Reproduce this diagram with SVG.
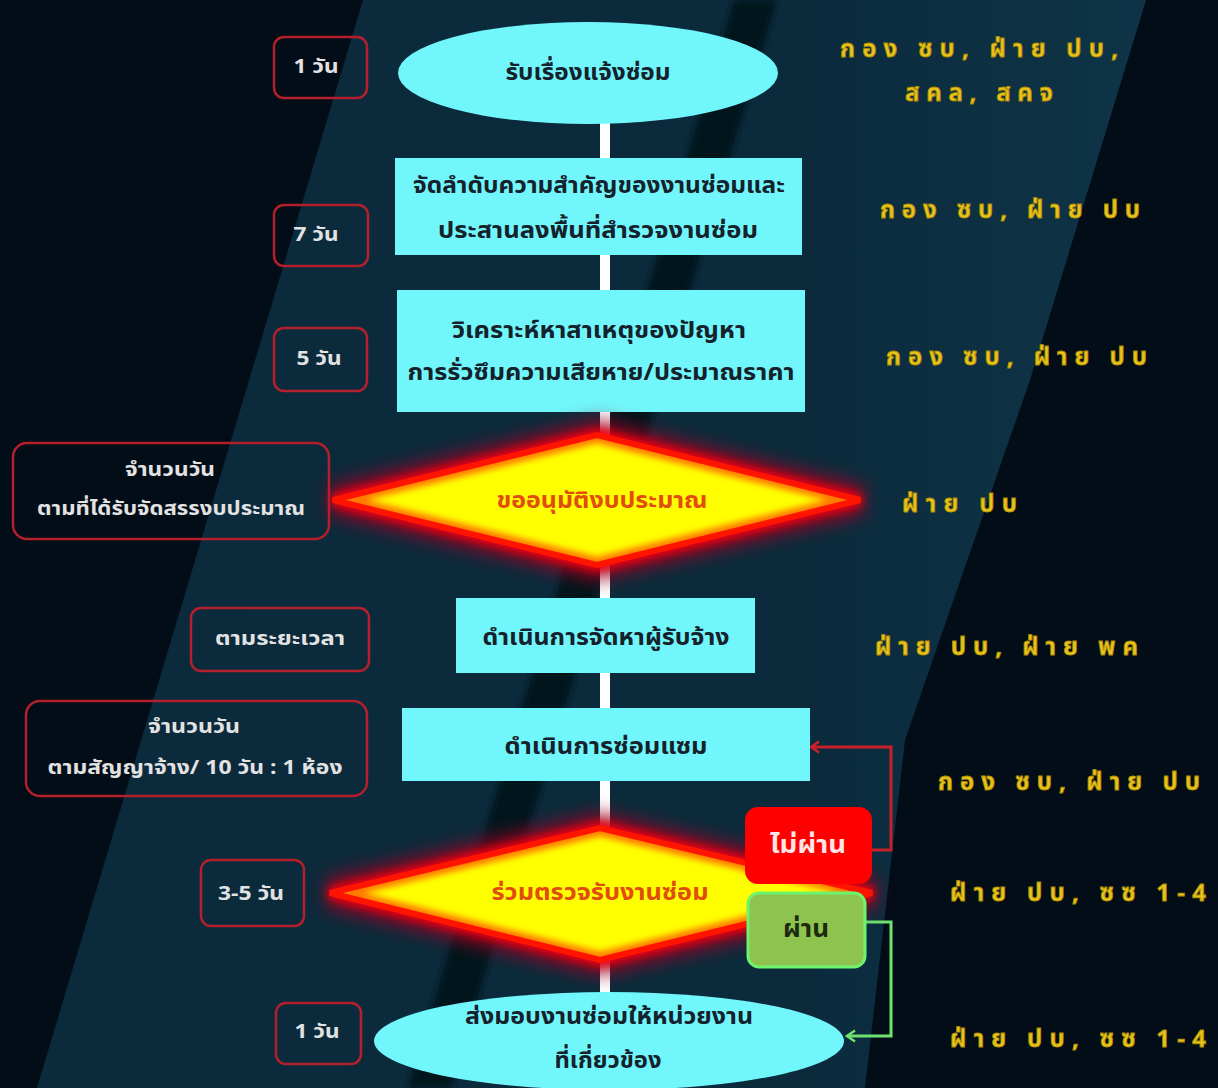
<svg xmlns="http://www.w3.org/2000/svg" width="1218" height="1088" viewBox="0 0 1218 1088">
  <defs>
    <style>
      .nt { font-family: 'Noto Sans Thai', 'Noto Sans', 'DejaVu Sans', sans-serif; font-weight: bold; font-size: 23px; fill: #15212b; text-anchor: middle; }
      .dt { font-family: 'Noto Sans Thai', 'Noto Sans', 'DejaVu Sans', sans-serif; font-weight: bold; font-size: 23px; fill: #e24c0c; text-anchor: middle; }
      .bt { font-family: 'Noto Sans Thai', 'Noto Sans', 'DejaVu Sans', sans-serif; font-weight: bold; font-size: 19px; fill: #e2e2e2; text-anchor: middle; }
      .who { font-family: 'Noto Sans Thai', 'Noto Sans', 'DejaVu Sans', sans-serif; font-weight: bold; font-size: 24px; fill: #e8c41c; stroke: #b08c00; stroke-width: 0.8; }
      .badge { fill: none; stroke: #b3202c; stroke-width: 2.5; }
      .proc { fill: #70f6fb; }
      .bar { fill: #ffffff; }
      .glow2 { fill: #a00020; stroke: #a00020; stroke-width: 30; stroke-linejoin: miter; filter: url(#blur9); opacity: 0.85; }
      .glow { fill: none; stroke: #ff0010; stroke-width: 12; stroke-linejoin: miter; filter: url(#blur4); opacity: 0.9; }
      .dfill { fill: #ffff00; }
      .dinner { fill: none; stroke: #ff7a00; stroke-width: 16; filter: url(#blur3); }
      .dedge { fill: none; stroke: #ff1400; stroke-width: 6; }
    </style>
    <filter id="blur9" x="-20%" y="-60%" width="140%" height="220%"><feGaussianBlur stdDeviation="9"/></filter>
    <filter id="blur4" x="-20%" y="-60%" width="140%" height="220%"><feGaussianBlur stdDeviation="4"/></filter>
    <filter id="blur3" x="-10%" y="-30%" width="120%" height="160%"><feGaussianBlur stdDeviation="3"/></filter>
    <filter id="soft" x="-10%" y="-10%" width="120%" height="120%"><feGaussianBlur stdDeviation="3"/></filter>
    <linearGradient id="band" x1="0" y1="0" x2="1" y2="0">
      <stop offset="0" stop-color="#0b2a3c"/>
      <stop offset="0.7" stop-color="#0b2b3d"/>
      <stop offset="1" stop-color="#0f3447"/>
    </linearGradient>
    <clipPath id="clipD1"><polygon points="333,500 597,435 860,500 597,565"/></clipPath>
    <clipPath id="clipD2"><polygon points="330,893 600,828 872,893 600,960"/></clipPath>
    <marker id="arrR" markerWidth="14" markerHeight="14" refX="11" refY="7" orient="auto" markerUnits="userSpaceOnUse">
      <path d="M3,1.5 L11,7 L3,12.5" fill="none" stroke="#d0202a" stroke-width="2.5"/>
    </marker>
    <marker id="arrG" markerWidth="14" markerHeight="14" refX="11" refY="7" orient="auto" markerUnits="userSpaceOnUse">
      <path d="M3,1.5 L11,7 L3,12.5" fill="none" stroke="#6fe36f" stroke-width="2.5"/>
    </marker>
  </defs>

  <!-- background -->
  <rect x="0" y="0" width="1218" height="1088" fill="#020d18"/>
  <polygon points="363,0 1146,0 1030,380 950,610 905,740 865,1088 37,1088" fill="url(#band)"/>
  <polygon points="734,0 777,0 451,1088 408,1088" fill="#04121e" filter="url(#soft)"/>

  <!-- connectors -->
  <g id="connectors">
    <rect class="bar" x="600" y="122" width="10" height="38"/>
    <rect class="bar" x="600" y="253" width="10" height="39"/>
    <rect class="bar" x="600" y="410" width="10" height="28"/>
    <rect class="bar" x="600" y="562" width="10" height="38"/>
    <rect class="bar" x="600" y="671" width="10" height="39"/>
    <rect class="bar" x="600" y="779" width="10" height="52"/>
    <rect class="bar" x="600" y="957" width="10" height="38"/>
    <path d="M872,850 H891 V747 H811" fill="none" stroke="#c8202a" stroke-width="3" marker-end="url(#arrR)"/>
    <path d="M865,922 H891 V1036 H847" fill="none" stroke="#6fe36f" stroke-width="3" marker-end="url(#arrG)"/>
  </g>

  <!-- flow nodes -->
  <g id="n1">
    <ellipse class="proc" cx="588" cy="73" rx="190" ry="51"/>
    <text class="nt" x="588" y="80" textLength="165" lengthAdjust="spacingAndGlyphs">รับเรื่องแจ้งซ่อม</text>
  </g>
  <g id="n2">
    <rect class="proc" x="395" y="158" width="407" height="97"/>
    <text class="nt" x="599" y="193" textLength="372" lengthAdjust="spacingAndGlyphs">จัดลำดับความสำคัญของงานซ่อมและ</text>
    <text class="nt" x="598" y="238" textLength="320" lengthAdjust="spacingAndGlyphs">ประสานลงพื้นที่สำรวจงานซ่อม</text>
  </g>
  <g id="n3">
    <rect class="proc" x="397" y="290" width="408" height="122"/>
    <text class="nt" x="599" y="338" textLength="294" lengthAdjust="spacingAndGlyphs">วิเคราะห์หาสาเหตุของปัญหา</text>
    <text class="nt" x="601" y="380" textLength="387" lengthAdjust="spacingAndGlyphs">การรั่วซึมความเสียหาย/ประมาณราคา</text>
  </g>
  <g id="n4">
    <polygon class="glow2" points="333,500 597,435 860,500 597,565"/>
    <polygon class="glow" points="333,500 597,435 860,500 597,565"/>
    <polygon class="dfill" points="333,500 597,435 860,500 597,565"/>
    <polygon class="dinner" clip-path="url(#clipD1)" points="333,500 597,435 860,500 597,565"/>
    <polygon class="dedge" points="333,500 597,435 860,500 597,565"/>
    <text class="dt" x="602" y="508" textLength="211" lengthAdjust="spacingAndGlyphs">ขออนุมัติงบประมาณ</text>
  </g>
  <g id="n5">
    <rect class="proc" x="456" y="598" width="299" height="75"/>
    <text class="nt" x="606" y="645" textLength="247" lengthAdjust="spacingAndGlyphs">ดำเนินการจัดหาผู้รับจ้าง</text>
  </g>
  <g id="n6">
    <rect class="proc" x="402" y="708" width="408" height="73"/>
    <text class="nt" x="606" y="754" textLength="203" lengthAdjust="spacingAndGlyphs">ดำเนินการซ่อมแซม</text>
  </g>
  <g id="n7">
    <polygon class="glow2" points="330,893 600,828 872,893 600,960"/>
    <polygon class="glow" points="330,893 600,828 872,893 600,960"/>
    <polygon class="dfill" points="330,893 600,828 872,893 600,960"/>
    <polygon class="dinner" clip-path="url(#clipD2)" points="330,893 600,828 872,893 600,960"/>
    <polygon class="dedge" points="330,893 600,828 872,893 600,960"/>
    <text class="dt" x="600" y="900" textLength="217" lengthAdjust="spacingAndGlyphs">ร่วมตรวจรับงานซ่อม</text>
  </g>
  <g id="n8">
    <ellipse class="proc" cx="609" cy="1041" rx="235" ry="49"/>
    <text class="nt" x="609" y="1024" textLength="288" lengthAdjust="spacingAndGlyphs">ส่งมอบงานซ่อมให้หน่วยงาน</text>
    <text class="nt" x="608" y="1068" textLength="107" lengthAdjust="spacingAndGlyphs">ที่เกี่ยวข้อง</text>
  </g>

  <!-- decision outcomes -->
  <g id="fail">
    <rect x="745" y="807" width="127" height="77" rx="13" fill="#ff0000"/>
    <text class="nt" x="808" y="853" style="fill:#ffe6e6;font-size:25px" textLength="76" lengthAdjust="spacingAndGlyphs">ไม่ผ่าน</text>
  </g>
  <g id="pass">
    <rect x="748" y="893" width="117" height="74" rx="11" fill="#8fc34f" stroke="#6cf56c" stroke-width="3"/>
    <text class="nt" x="806" y="937" style="fill:#1c2a0e;font-size:25px" textLength="46" lengthAdjust="spacingAndGlyphs">ผ่าน</text>
  </g>

  <!-- duration badges -->
  <g id="d1">
    <rect class="badge" x="274" y="37" width="93" height="61" rx="10"/>
    <text class="bt" x="316" y="73" textLength="45" lengthAdjust="spacingAndGlyphs">1 วัน</text>
  </g>
  <g id="d2">
    <rect class="badge" x="274" y="205" width="94" height="61" rx="10"/>
    <text class="bt" x="316" y="241" textLength="45" lengthAdjust="spacingAndGlyphs">7 วัน</text>
  </g>
  <g id="d3">
    <rect class="badge" x="274" y="328" width="93" height="63" rx="10"/>
    <text class="bt" x="319" y="365" textLength="45" lengthAdjust="spacingAndGlyphs">5 วัน</text>
  </g>
  <g id="d4">
    <rect class="badge" x="13" y="443" width="316" height="96" rx="14"/>
    <text class="bt" x="170" y="476" textLength="90" lengthAdjust="spacingAndGlyphs">จำนวนวัน</text>
    <text class="bt" x="171" y="515" textLength="268" lengthAdjust="spacingAndGlyphs">ตามที่ได้รับจัดสรรงบประมาณ</text>
  </g>
  <g id="d5">
    <rect class="badge" x="191" y="608" width="178" height="63" rx="10"/>
    <text class="bt" x="280" y="645" textLength="130" lengthAdjust="spacingAndGlyphs">ตามระยะเวลา</text>
  </g>
  <g id="d6">
    <rect class="badge" x="26" y="701" width="341" height="95" rx="14"/>
    <text class="bt" x="194" y="733" textLength="92" lengthAdjust="spacingAndGlyphs">จำนวนวัน</text>
    <text class="bt" x="195" y="774" textLength="295" lengthAdjust="spacingAndGlyphs">ตามสัญญาจ้าง/  10 วัน : 1 ห้อง</text>
  </g>
  <g id="d7">
    <rect class="badge" x="201" y="860" width="103" height="66" rx="10"/>
    <text class="bt" x="251" y="900" textLength="66" lengthAdjust="spacingAndGlyphs">3-5 วัน</text>
  </g>
  <g id="d8">
    <rect class="badge" x="276" y="1003" width="85" height="61" rx="10"/>
    <text class="bt" x="317" y="1038" textLength="45" lengthAdjust="spacingAndGlyphs">1 วัน</text>
  </g>

  <!-- responsible units -->
  <g id="r1">
    <text class="who" x="840" y="57" textLength="278" lengthAdjust="spacing">กอง ซบ, ฝ่าย ปบ,</text>
    <text class="who" x="905" y="101" textLength="148" lengthAdjust="spacing">สคล, สคจ</text>
  </g>
  <g id="r2"><text class="who" x="880" y="218" textLength="260" lengthAdjust="spacing">กอง ซบ, ฝ่าย ปบ</text></g>
  <g id="r3"><text class="who" x="886" y="365" textLength="261" lengthAdjust="spacing">กอง ซบ, ฝ่าย ปบ</text></g>
  <g id="r4"><text class="who" x="902" y="512" textLength="115" lengthAdjust="spacing">ฝ่าย ปบ</text></g>
  <g id="r5"><text class="who" x="875" y="655" textLength="263" lengthAdjust="spacing">ฝ่าย ปบ, ฝ่าย พค</text></g>
  <g id="r6"><text class="who" x="938" y="790" textLength="262" lengthAdjust="spacing">กอง ซบ, ฝ่าย ปบ</text></g>
  <g id="r7"><text class="who" x="950" y="901" textLength="256" lengthAdjust="spacing">ฝ่าย ปบ, ซซ 1-4</text></g>
  <g id="r8"><text class="who" x="950" y="1047" textLength="256" lengthAdjust="spacing">ฝ่าย ปบ, ซซ 1-4</text></g>
</svg>
